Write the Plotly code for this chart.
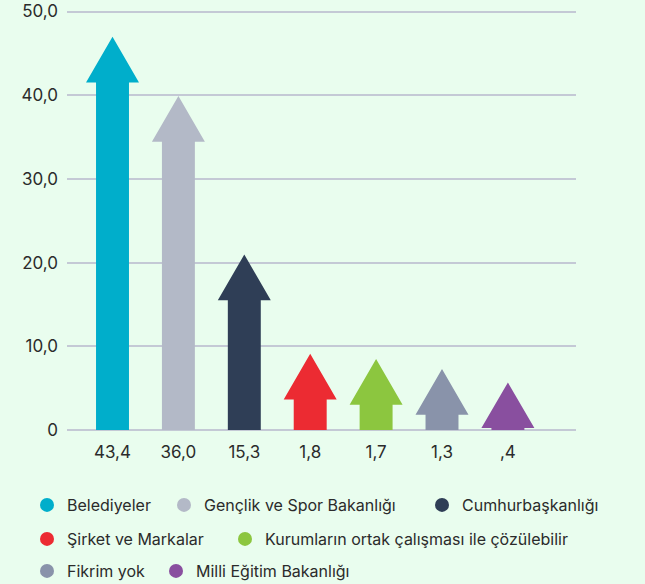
import plotly.graph_objects as go

# ---- data ----
categories = ["Belediyeler", "Gençlik ve Spor Bakanlığı", "Cumhurbaşkanlığı",
              "Şirket ve Markalar", "Kurumların ortak çalışması ile çözülebilir",
              "Fikrim yok", "Milli Eğitim Bakanlığı"]
value_labels = ["43,4", "36,0", "15,3", "1,8", "1,7", "1,3", ",4"]
arrow_tips = [46.97, 39.9, 20.96, 9.1, 8.47, 7.28, 5.68]   # height of arrow tip on the y scale
colors = ["#00aecb", "#b3b9c7", "#2f3e56", "#ec2b32", "#8cc63f", "#8993aa", "#894f9f"]
y_tickvals = [0, 10, 20, 30, 40, 50]
y_ticktext = ["0", "10,0", "20,0", "30,0", "40,0", "50,0"]

# ---- style / layout ----
HEAD_H = 5.45      # arrow head height (y units)
HEAD_HW = 0.402    # arrow head half width (x units)
SHAFT_HW = 0.25    # shaft half width (x units)
BG = "#e9fdee"
FONT = "Inter, sans-serif"
TXT = "#2b2b2b"
GRID = "#c4c9d5"

W, H = 645, 584
L, R, T, B = 67, 69, 9, 154
plot_w = W - L - R
plot_h = H - T - B
# legend entry positions (circle centre x, row centre y) in pixels
legend_pos = [(47, 505), (184, 505), (442, 505),
              (47, 539), (245, 539),
              (47, 571), (176, 571)]

fig = go.Figure()
for i, (tip, col) in enumerate(zip(arrow_tips, colors)):
    base = tip - HEAD_H
    xs = [i - SHAFT_HW, i - SHAFT_HW, i - HEAD_HW, i, i + HEAD_HW, i + SHAFT_HW, i + SHAFT_HW, i - SHAFT_HW]
    ys = [0, base, base, tip, base, base, 0, 0]
    fig.add_trace(go.Scatter(x=xs, y=ys, mode="lines", fill="toself", fillcolor=col,
                             line=dict(width=0, color=col), showlegend=False, hoverinfo="skip"))

legend_layout = {}
for k, (name, col, (cx, cy)) in enumerate(zip(categories, colors, legend_pos)):
    lid = "legend" if k == 0 else f"legend{k + 1}"
    fig.add_trace(go.Scatter(x=[None], y=[None], mode="markers", name=name,
                             marker=dict(size=14, color=col, symbol="circle"),
                             legend=lid))
    legend_layout[lid] = dict(
        orientation="h", x=(cx - 20 - L) / plot_w, xanchor="left",
        y=(H - B - cy) / plot_h, yanchor="middle",
        bgcolor="rgba(0,0,0,0)", borderwidth=0,
        font=dict(family=FONT, size=16, color=TXT), itemsizing="trace")

fig.update_layout(
    width=W, height=H,
    margin=dict(l=L, r=R, t=T, b=B, pad=0, autoexpand=False),
    paper_bgcolor=BG, plot_bgcolor=BG,
    font=dict(family=FONT, color=TXT, size=17),
    xaxis=dict(range=[(L - 112.5) / 65.9, (W - R - 112.5) / 65.9],
               tickvals=list(range(len(value_labels))), ticktext=value_labels,
               showgrid=False, zeroline=False, showline=False, automargin=False,
               ticks="", ticklabelstandoff=10, tickfont=dict(size=17, color=TXT)),
    yaxis=dict(range=[0, 50.3], tickvals=y_tickvals, ticktext=y_ticktext,
               showgrid=True, gridcolor=GRID, gridwidth=1.5,
               zeroline=True, zerolinecolor=GRID, zerolinewidth=1.5,
               showline=False, ticks="", ticklabelstandoff=8, automargin=False,
               tickfont=dict(size=17, color=TXT)),
    **legend_layout,
)

fig.write_html("out.html", config={"displayModeBar": False},
               post_script="document.body.style.margin='0';document.body.style.overflow='hidden';")
